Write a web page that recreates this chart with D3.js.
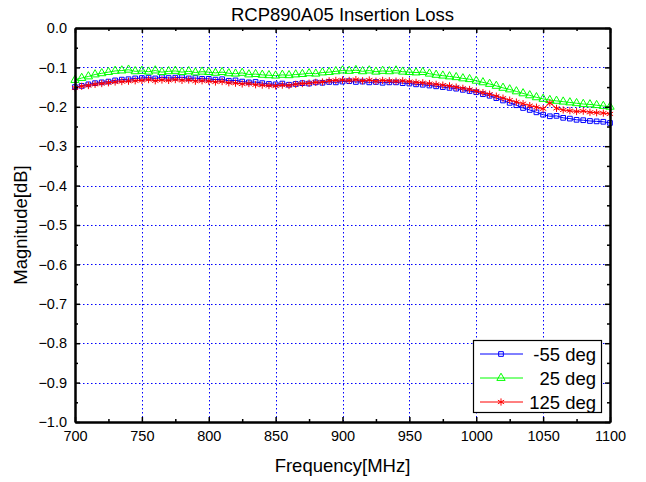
<!DOCTYPE html>
<html>
<head>
<meta charset="utf-8">
<script src="https://cdn.jsdelivr.net/npm/d3@7"></script>
<style>
  body { margin: 0; background: #fff; }
  svg text { font-family: Arial, "Liberation Sans", sans-serif; fill: #000; }
</style>
</head>
<body>
<div id="chart"></div>
<script>
// frequency steps, 700..1100 MHz every 5 MHz
let freqs = d3.range(700, 1101, 5);

let lossM55 = [
  -0.150, -0.147, -0.143, -0.140, -0.138, -0.136, -0.133, -0.131, -0.130, -0.128,
  -0.127, -0.126, -0.128, -0.125, -0.127, -0.126, -0.125, -0.128, -0.127, -0.129,
  -0.129, -0.131, -0.130, -0.134, -0.133, -0.136, -0.138, -0.137, -0.140, -0.142,
  -0.143, -0.141, -0.144, -0.142, -0.140, -0.141, -0.138, -0.139, -0.137, -0.138,
  -0.136, -0.135, -0.137, -0.136, -0.138, -0.137, -0.139, -0.138, -0.138, -0.140,
  -0.141, -0.143, -0.144, -0.146, -0.148, -0.150, -0.152, -0.154, -0.157, -0.160,
  -0.163, -0.168, -0.172, -0.178, -0.184, -0.190, -0.196, -0.203, -0.208, -0.214,
  -0.220, -0.224, -0.223, -0.228, -0.230, -0.233, -0.234, -0.236, -0.237, -0.238,
  -0.241
];

let loss25 = [
  -0.132, -0.127, -0.123, -0.118, -0.115, -0.112, -0.109, -0.108, -0.106, -0.110,
  -0.109, -0.111, -0.108, -0.112, -0.110, -0.109, -0.112, -0.110, -0.113, -0.111,
  -0.112, -0.114, -0.112, -0.115, -0.116, -0.114, -0.118, -0.117, -0.119, -0.120,
  -0.121, -0.119, -0.120, -0.118, -0.117, -0.115, -0.116, -0.113, -0.112, -0.110,
  -0.108, -0.109, -0.107, -0.110, -0.108, -0.111, -0.109, -0.110, -0.108, -0.111,
  -0.112, -0.113, -0.112, -0.116, -0.119, -0.121, -0.123, -0.125, -0.128, -0.130,
  -0.134, -0.138, -0.142, -0.147, -0.152, -0.156, -0.161, -0.166, -0.171, -0.176,
  -0.180, -0.183, -0.185, -0.187, -0.189, -0.191, -0.193, -0.194, -0.196, -0.198,
  -0.200
];

let loss125 = [
  -0.152, -0.148, -0.146, -0.143, -0.141, -0.139, -0.137, -0.136, -0.135, -0.134,
  -0.133, -0.131, -0.134, -0.132, -0.133, -0.131, -0.133, -0.132, -0.135, -0.134,
  -0.135, -0.137, -0.136, -0.139, -0.140, -0.142, -0.141, -0.144, -0.145, -0.146,
  -0.147, -0.145, -0.146, -0.143, -0.141, -0.140, -0.138, -0.137, -0.134, -0.133,
  -0.132, -0.133, -0.131, -0.134, -0.132, -0.135, -0.133, -0.134, -0.135, -0.134,
  -0.136, -0.138, -0.139, -0.141, -0.143, -0.145, -0.147, -0.150, -0.153, -0.156,
  -0.160, -0.164, -0.168, -0.173, -0.178, -0.183, -0.188, -0.192, -0.197, -0.201,
  -0.205, -0.190, -0.204, -0.208, -0.210, -0.212, -0.211, -0.214, -0.215, -0.216,
  -0.218
];

let seriesNames = ['-55 deg', '25 deg', '125 deg'];
let seriesColors = ['#0000ff', '#00ff00', '#ff0000'];
let seriesSymbols = [d3.symbolSquare, d3.symbolTriangle, d3.symbolAsterisk];

let xTicks = [700, 750, 800, 850, 900, 950, 1000, 1050, 1100];
let yTicks = [0, -0.1, -0.2, -0.3, -0.4, -0.5, -0.6, -0.7, -0.8, -0.9, -1.0];

let width = 646;
let height = 482;
let plot = { left: 75, right: 610, top: 28, bottom: 422 };

let svg = d3.select('#chart')
  .append('svg')
  .attr('width', width)
  .attr('height', height);

let x = d3.scaleLinear().domain([700, 1100]).range([plot.left, plot.right]);
let y = d3.scaleLinear().domain([-1, 0]).range([plot.bottom, plot.top]);

// dotted grid at major ticks
let grid = svg.append('g').attr('class', 'grid')
  .attr('stroke', '#0000ff')
  .attr('stroke-width', 1)
  .attr('stroke-dasharray', '1.5,2.5');

grid.selectAll('.gx')
  .data(xTicks.slice(1, -1))
  .enter().append('line')
  .attr('x1', d => Math.round(x(d)) + 0.5)
  .attr('x2', d => Math.round(x(d)) + 0.5)
  .attr('y1', plot.top)
  .attr('y2', plot.bottom);

grid.selectAll('.gy')
  .data(yTicks.slice(1, -1))
  .enter().append('line')
  .attr('y1', d => Math.round(y(d)) + 0.5)
  .attr('y2', d => Math.round(y(d)) + 0.5)
  .attr('x1', plot.left)
  .attr('x2', plot.right);

// series lines + markers
let seriesData = [lossM55, loss25, loss125];

let line = d3.line()
  .x((d, i) => x(freqs[i]))
  .y(d => y(d));

let symbolSizes = [22, 30, 36];

seriesData.forEach((values, k) => {
  let g = svg.append('g').attr('class', 'series');
  g.append('path')
    .datum(values)
    .attr('fill', 'none')
    .attr('stroke', seriesColors[k])
    .attr('stroke-width', 1)
    .attr('d', line);

  g.selectAll('.mark')
    .data(values)
    .enter().append('path')
    .attr('transform', (d, i) => `translate(${x(freqs[i])},${y(d)})`)
    .attr('d', d3.symbol().type(seriesSymbols[k]).size(symbolSizes[k]))
    .attr('fill', k === 2 ? seriesColors[k] : 'none')
    .attr('stroke', seriesColors[k])
    .attr('stroke-width', 1);
});

// axes: all four sides with inward ticks
function frameAxis(axis) {
  return axis.tickSizeOuter(0).tickPadding(6);
}

let xMinor = d3.range(725, 1100, 50);
let yMinor = d3.range(-0.95, 0, 0.1);

let bottomAxis = svg.append('g')
  .attr('transform', `translate(0,${plot.bottom})`)
  .call(frameAxis(d3.axisBottom(x).tickValues(xTicks).tickFormat(d3.format('d')).tickSizeInner(-5)));

let leftAxis = svg.append('g')
  .attr('transform', `translate(${plot.left},0)`)
  .call(frameAxis(d3.axisLeft(y).tickValues(yTicks).tickFormat(d3.format('.1f')).tickSizeInner(-5)));

svg.append('g')
  .attr('transform', `translate(0,${plot.top})`)
  .call(d3.axisTop(x).tickValues(xTicks).tickFormat('').tickSizeInner(-5).tickSizeOuter(0));

svg.append('g')
  .attr('transform', `translate(${plot.right},0)`)
  .call(d3.axisRight(y).tickValues(yTicks).tickFormat('').tickSizeInner(-5).tickSizeOuter(0));

// minor ticks
svg.append('g')
  .attr('transform', `translate(0,${plot.bottom})`)
  .call(d3.axisBottom(x).tickValues(xMinor).tickFormat('').tickSizeInner(-3).tickSizeOuter(0));
svg.append('g')
  .attr('transform', `translate(0,${plot.top})`)
  .call(d3.axisTop(x).tickValues(xMinor).tickFormat('').tickSizeInner(-3).tickSizeOuter(0));
svg.append('g')
  .attr('transform', `translate(${plot.left},0)`)
  .call(d3.axisLeft(y).tickValues(yMinor).tickFormat('').tickSizeInner(-3).tickSizeOuter(0));
svg.append('g')
  .attr('transform', `translate(${plot.right},0)`)
  .call(d3.axisRight(y).tickValues(yMinor).tickFormat('').tickSizeInner(-3).tickSizeOuter(0));

svg.selectAll('.domain').attr('stroke', '#000').attr('stroke-width', 2);
svg.selectAll('.tick line').attr('stroke', '#000').attr('stroke-width', 1.5);
svg.selectAll('.tick text').attr('font-size', 14.5).attr('fill', '#000')
  .style('font-family', 'Arial, "Liberation Sans", sans-serif');
leftAxis.selectAll('.tick text').attr('x', -8);
bottomAxis.selectAll('.tick text').attr('y', 9);

// titles
svg.append('text')
  .attr('x', (plot.left + plot.right) / 2)
  .attr('y', 21)
  .attr('text-anchor', 'middle')
  .attr('font-size', 18.5)
  .text('RCP890A05 Insertion Loss');

svg.append('text')
  .attr('x', (plot.left + plot.right) / 2)
  .attr('y', 472)
  .attr('text-anchor', 'middle')
  .attr('font-size', 18.5)
  .text('Frequency[MHz]');

svg.append('text')
  .attr('transform', `translate(27,${(plot.top + plot.bottom) / 2}) rotate(-90)`)
  .attr('text-anchor', 'middle')
  .attr('font-size', 18.5)
  .text('Magnitude[dB]');

// legend
let legend = svg.append('g').attr('class', 'legend');
legend.append('rect')
  .attr('x', 473.5)
  .attr('y', 340.5)
  .attr('width', 128)
  .attr('height', 72)
  .attr('fill', '#fff')
  .attr('stroke', '#000')
  .attr('stroke-width', 1.2);

let legendItems = legend.selectAll('.item')
  .data(seriesNames)
  .enter().append('g')
  .attr('transform', (d, i) => `translate(0,${354 + i * 24})`);

legendItems.append('line')
  .attr('x1', 480).attr('x2', 523)
  .attr('stroke', (d, i) => seriesColors[i])
  .attr('stroke-width', 1);

legendItems.append('path')
  .attr('transform', 'translate(501,0)')
  .attr('d', (d, i) => d3.symbol().type(seriesSymbols[i]).size(symbolSizes[i])())
  .attr('fill', (d, i) => i === 2 ? seriesColors[i] : 'none')
  .attr('stroke', (d, i) => seriesColors[i])
  .attr('stroke-width', 1);

legendItems.append('text')
  .attr('x', 596)
  .attr('y', 6.5)
  .attr('text-anchor', 'end')
  .attr('font-size', 18.5)
  .text(d => d);
</script>
</body>
</html>
